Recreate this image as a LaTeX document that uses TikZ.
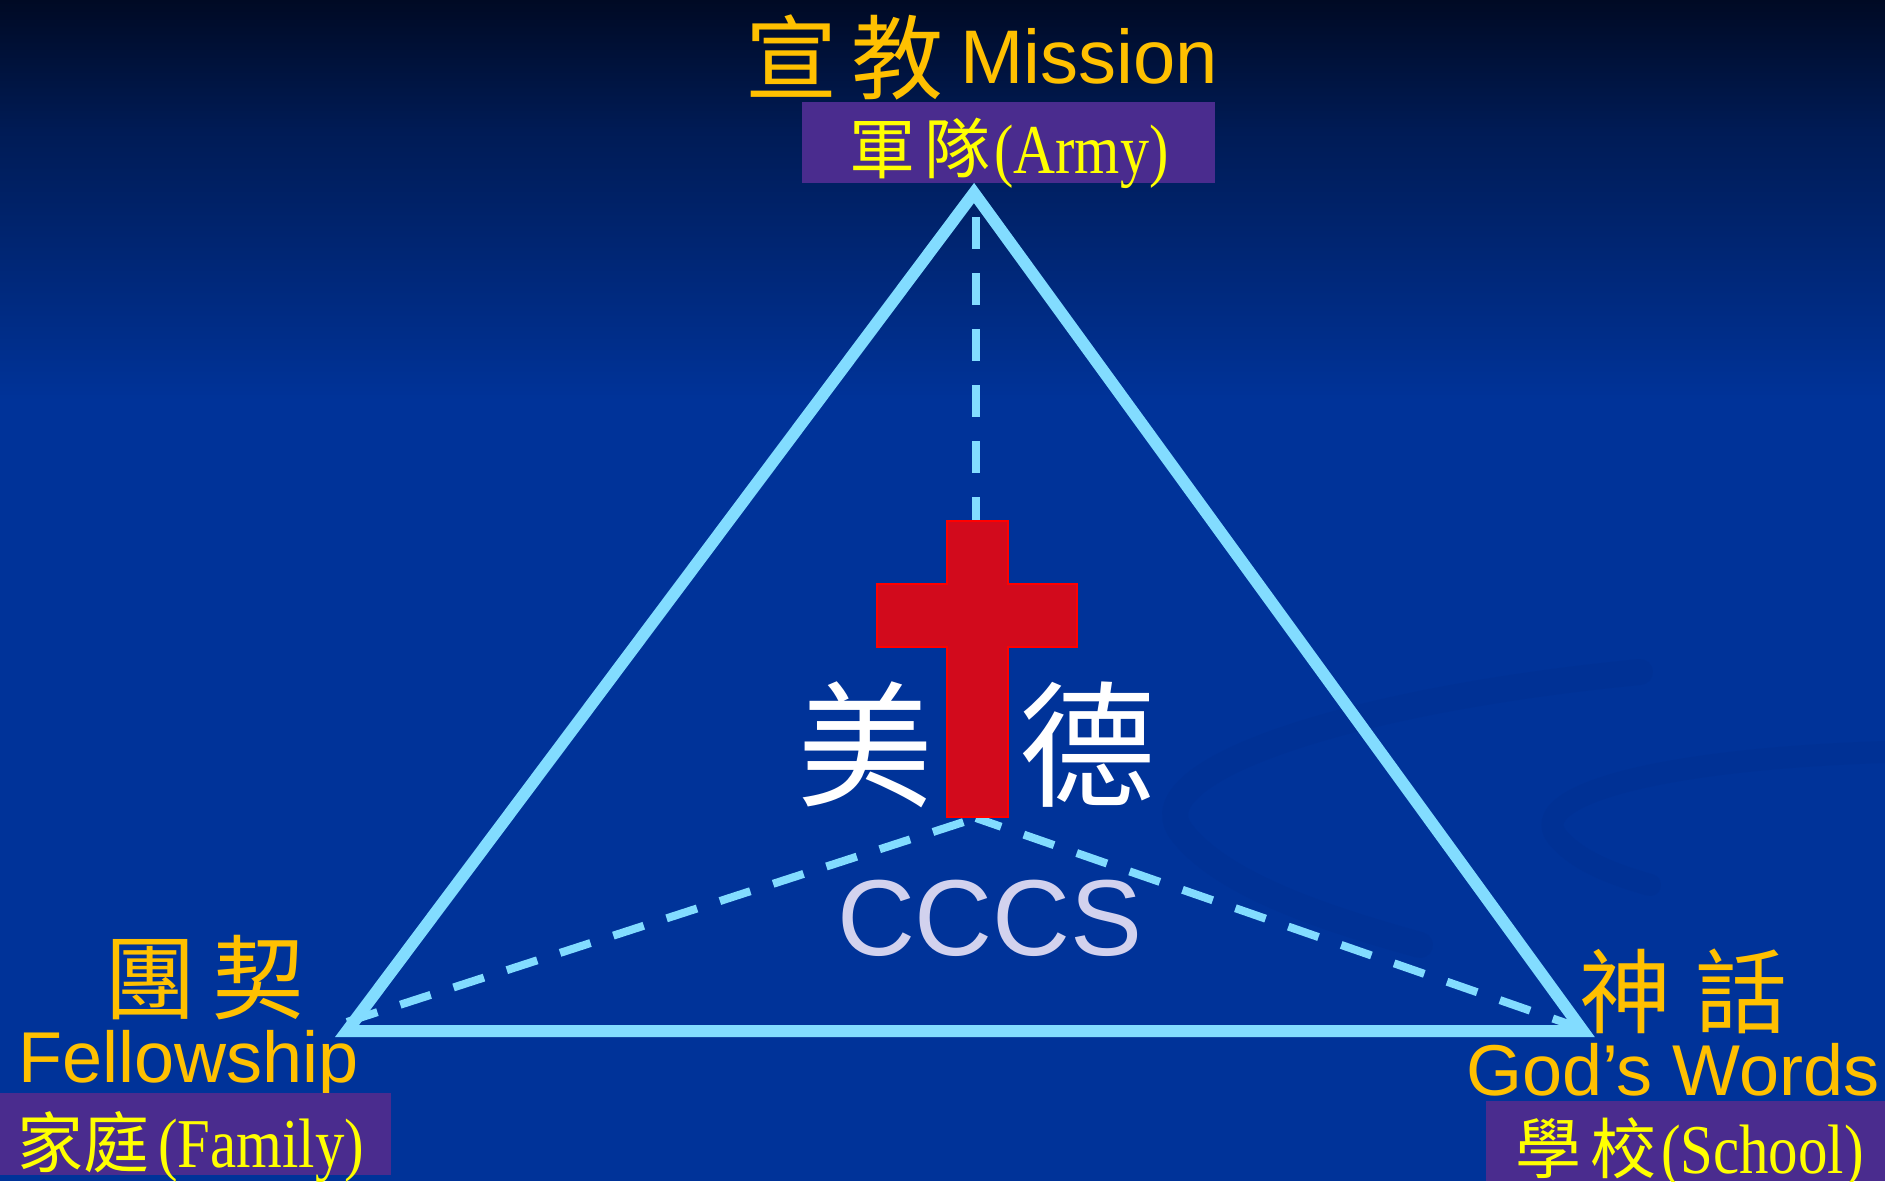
\documentclass[tikz,border=0pt]{standalone}
\usepackage{fontspec}
\setmainfont{Liberation Serif}
\newfontfamily\cjk{Noto Sans CJK TC}
\newfontfamily\arialf{Liberation Sans}
\newfontfamily\tnr{Liberation Serif}
\definecolor{bgtop}{HTML}{000A24}
\definecolor{bgmid}{HTML}{001B55}
\definecolor{bgblue}{HTML}{003399}
\definecolor{swirl}{HTML}{002E8C}
\definecolor{tricol}{HTML}{82DCFF}
\definecolor{gold}{HTML}{FFC000}
\definecolor{lblyel}{HTML}{FFFF00}
\definecolor{boxpurple}{HTML}{4A2C8E}
\definecolor{crossred}{HTML}{D20A1C}
\definecolor{cccscol}{HTML}{D2D2EE}
\begin{document}
\begin{tikzpicture}[x=1pt,y=-1pt,
  triline/.style={draw=tricol, line width=12pt, line join=miter},
  dashln/.style={draw=tricol, line width=8pt, dash pattern=on 32pt off 24pt},
  labbox/.style={fill=boxpurple, draw=none, inner sep=0pt, anchor=north west},
  bigcjk/.style={text=gold, inner sep=0pt, font=\cjk\fontsize{92}{92}\selectfont},
  engtxt/.style={text=gold, inner sep=0pt, font=\arialf\fontsize{72}{72}\selectfont},
  boxtxt/.style={text=lblyel, inner sep=0pt, anchor=base west, font=\fontsize{66}{66}\selectfont},
  latin/.style={font=\tnr\fontsize{70}{70}\selectfont}]
\useasboundingbox (0,0) rectangle (1885,1181);
% background
\fill[bgblue] (0,0) rectangle (1885,1181);
\shade[top color=bgtop, bottom color=bgmid] (0,0) rectangle (1885,130);
\shade[top color=bgmid, bottom color=bgblue] (0,129.5) rectangle (1885,400);
% faint swirls
\draw[swirl, line width=26pt, line cap=round, opacity=0.3]
  (1640,672) .. controls (1350,700) and (1140,770) .. (1180,830)
  .. controls (1220,885) and (1330,920) .. (1420,945);
\draw[swirl, line width=22pt, line cap=round, opacity=0.3]
  (1885,752) .. controls (1640,760) and (1520,800) .. (1560,840)
  .. controls (1580,862) and (1615,875) .. (1650,885);
% geometry
\coordinate (A) at (974,193);
\coordinate (B) at (347,1031);
\coordinate (C) at (1583,1031);
\coordinate (Av) at (976,193);
\coordinate (O) at (976,818);
\coordinate (Bd) at (347,1022);
\coordinate (Cd) at (1583,1029);
% dashed spokes
\draw[dashln, dash phase=32pt] (Av) -- (O);
\draw[dashln] (Bd) -- (O);
\draw[dashln] (Cd) -- (O);
% triangle
\draw[triline] (A) -- (B) -- (C) -- cycle;
% cross
\filldraw[fill=crossred, draw=red, line width=2.5pt, line join=miter]
  (947,521) -- (1008,521) -- (1008,584) -- (1077,584) -- (1077,647) -- (1008,647)
  -- (1008,817) -- (947,817) -- (947,647) -- (877,647) -- (877,584) -- (947,584) -- cycle;
% center texts
\node[text=white, inner sep=0pt, font=\cjk\fontsize{136}{136}\selectfont] (mei) at (865,745) {美};
\node[text=white, inner sep=0pt, font=\cjk\fontsize{136}{136}\selectfont] (de) at (1087,745) {德};
\node[anchor=base, text=cccscol, inner sep=0pt, font=\arialf\fontsize{108}{108}\selectfont] (cccs) at (990,955) {CCCS};
% top label
\node[bigcjk, anchor=west] (xuanjiao) at (745,57) {宣\hspace{14pt}教};
\node[anchor=base west, text=gold, inner sep=0pt, font=\arialf\fontsize{76}{76}\selectfont] (mission) at (960,83) {Mission};
\node[labbox, minimum width=413pt, minimum height=81pt] (armybox) at (802,102) {};
\node[boxtxt] (army) at (849,173) {{\cjk 軍\hspace{9pt}隊}\hspace{4pt}\scalebox{0.83}[1]{\tnr\fontsize{70}{70}\selectfont (Army)}};
% bottom-left label
\node[bigcjk, anchor=west] (tuanqi) at (104,978) {團\hspace{16pt}契};
\node[engtxt, anchor=base west] (fellow) at (18,1082) {Fellowship};
\node[labbox, minimum width=391pt, minimum height=82pt] (familybox) at (0,1093) {};
\node[boxtxt] (family) at (17,1167) {{\cjk 家庭}\hspace{9pt}\scalebox{0.84}[1]{\tnr\fontsize{70}{70}\selectfont (Family)}};
% bottom-right label
\node[bigcjk, anchor=west] (shenhua) at (1579,991) {神\hspace{24pt}話};
\node[engtxt, anchor=base west] (gods) at (1466,1095) {God’s Words};
\node[labbox, minimum width=399pt, minimum height=80pt] (schoolbox) at (1486,1101) {};
\node[boxtxt] (school) at (1515,1173) {{\cjk 學\hspace{9pt}校}\hspace{5pt}\scalebox{0.84}[1]{\tnr\fontsize{70}{70}\selectfont (School)}};
\end{tikzpicture}
\end{document}
